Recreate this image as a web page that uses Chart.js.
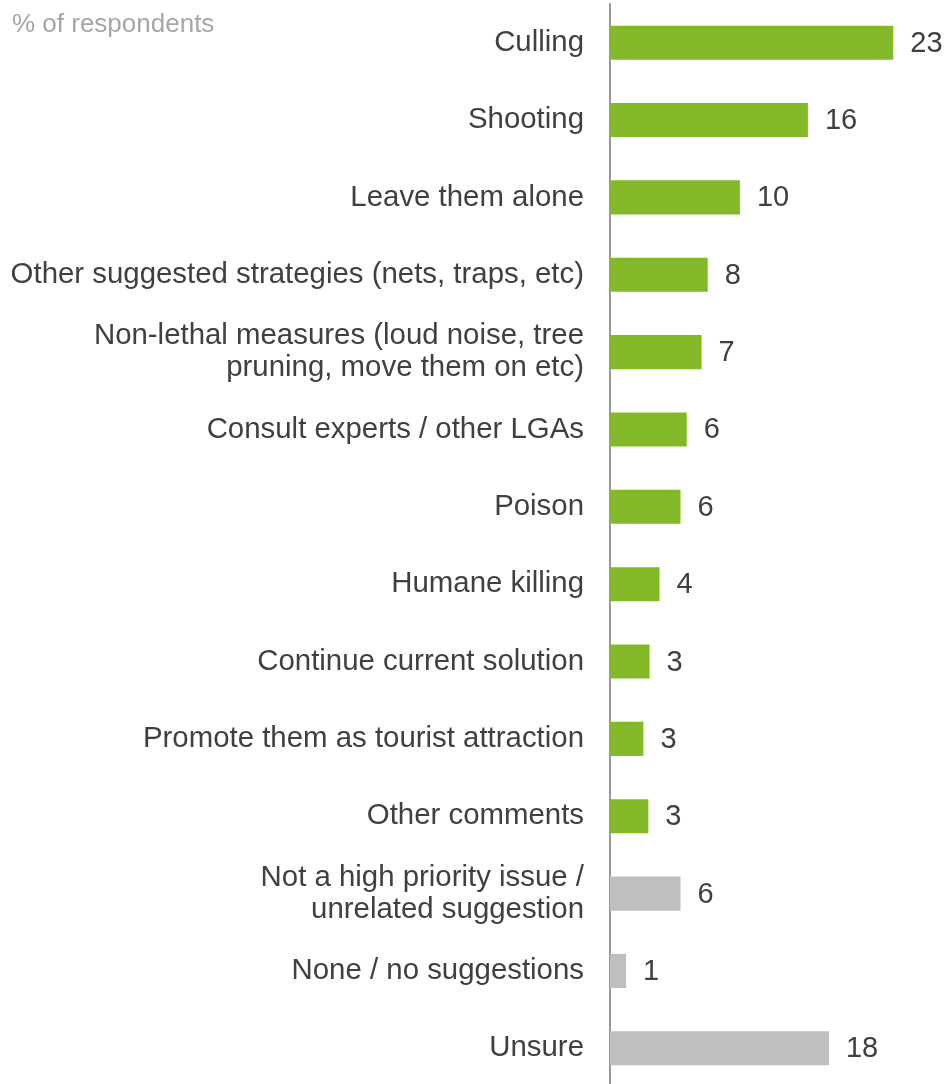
<!DOCTYPE html>
<html>
<head>
<meta charset="utf-8">
<script src="https://cdn.jsdelivr.net/npm/chart.js@4"></script>
<style>
  html, body { margin: 0; padding: 0; background: #fff; overflow: hidden; }
  #wrap { position: relative; width: 944px; height: 1087px; }
</style>
</head>
<body>
<div id="wrap"><canvas id="chart"></canvas></div>
<script>
// categories and values (% of respondents)
const categories = [
    'Culling',
    'Shooting',
    'Leave them alone',
    'Other suggested strategies (nets, traps, etc)',
    ['Non-lethal measures (loud noise, tree', 'pruning, move them on etc)'],
    'Consult experts / other LGAs',
    'Poison',
    'Humane killing',
    'Continue current solution',
    'Promote them as tourist attraction',
    'Other comments',
    ['Not a high priority issue /', 'unrelated suggestion'],
    'None / no suggestions',
    'Unsure'
];
const values = [22.9, 16.0, 10.5, 7.9, 7.4, 6.2, 5.7, 4.0, 3.2, 2.7, 3.1, 5.7, 1.3, 17.7];
const valueLabels = ['23', '16', '10', '8', '7', '6', '6', '4', '3', '3', '3', '6', '1', '18'];
const groups = ['s', 's', 's', 's', 's', 's', 's', 's', 's', 's', 's', 'o', 'o', 'o'];

const GREEN = '#83B928';
const GREY = '#BFBFBF';
const FONT = "'Liberation Sans', Arial, sans-serif";

// value labels beside bars + top-left note
const extras = {
    id: 'extras',
    afterDatasetsDraw(chart) {
        const ctx = chart.ctx;
        const meta = chart.getDatasetMeta(0);
        ctx.save();
        ctx.font = '29px ' + FONT;
        ctx.fillStyle = '#404040';
        ctx.textAlign = 'left';
        ctx.textBaseline = 'middle';
        meta.data.forEach((bar, i) => {
            ctx.fillText(valueLabels[i], bar.x + 17, bar.y + 1);
        });
        ctx.font = '26px ' + FONT;
        ctx.fillStyle = '#A6A6A6';
        ctx.textBaseline = 'alphabetic';
        ctx.fillText('% of respondents', 12, 32);
        ctx.restore();
    }
};

new Chart(document.getElementById('chart').getContext('2d'), {
    type: 'bar',
    data: {
        labels: categories,
        datasets: [{
            data: values,
            backgroundColor: groups.map(g => g === 's' ? GREEN : GREY),
            barPercentage: 0.44,
            categoryPercentage: 1
        }]
    },
    options: {
        indexAxis: 'y',
        responsive: true,
        maintainAspectRatio: false,
        animation: false,
        layout: { padding: { top: 4, right: 0, bottom: 0, left: 0 } },
        plugins: {
            legend: { display: false },
            tooltip: { enabled: false }
        },
        scales: {
            x: {
                display: false,
                min: 0,
                max: 27
            },
            y: {
                afterFit(scale) {
                    scale.width = 610;
                    scale.paddingTop = 0;
                    scale.paddingBottom = 0;
                },
                grid: { display: false, drawTicks: true, tickLength: 26 },
                border: { display: true, color: '#999999', width: 2 },
                ticks: {
                    autoSkip: false,
                    padding: 0,
                    color: '#404040',
                    font: { family: FONT, size: 29.4, lineHeight: 1.09 }
                }
            }
        }
    },
    plugins: [extras]
});
</script>
</body>
</html>
